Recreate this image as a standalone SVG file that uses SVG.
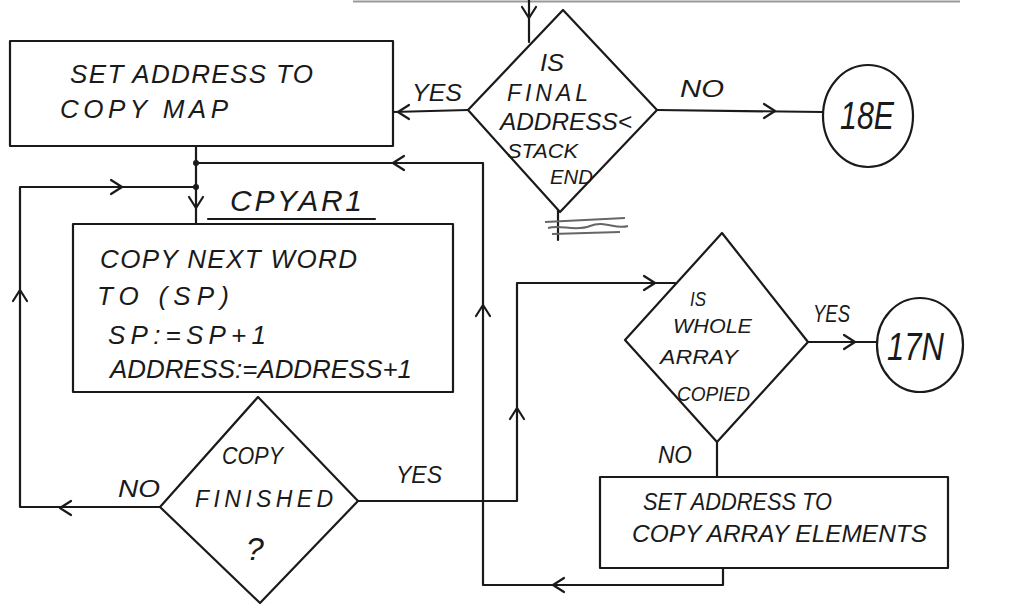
<svg xmlns="http://www.w3.org/2000/svg" xmlns:xlink="http://www.w3.org/1999/xlink" width="1013" height="607" viewBox="0 0 1013 607">
<style>
.s{fill:none;stroke:#1a1a1a;stroke-width:2.2;stroke-linejoin:round;stroke-linecap:round}
.t{font-family:"Liberation Sans",Arial,sans-serif;fill:#1a1a1a;font-style:italic}
.b{font-size:26px}
.d{font-size:23px}
.e{font-size:21px}
.l{font-size:24px}
.c{font-size:38px}
</style>
<defs>
<path id="ah" d="M-11,-7 L0,0 L-11,7" class="s"/>
</defs>
<rect width="1013" height="607" fill="#ffffff"/>
<line x1="353" y1="1.5" x2="960" y2="1.5" stroke="#999" stroke-width="2"/>

<g id="connectors">
<path class="s" d="M529,0 V42"/>
<path class="s" d="M468,110 L393,112"/>
<path class="s" d="M657,110 L823,112"/>
<path class="s" d="M196,146 V224"/>
<path class="s" d="M196,163 H483 V585 H723 V568"/>
<path class="s" d="M160,507 H20 V187 H196"/>
<path class="s" d="M358,501 H517 V283 H675"/>
<path class="s" d="M808,342 H877"/>
<path class="s" d="M717,442 V477"/>
<path class="s" d="M558,210 V240"/>
<path d="M545,222 L625,218 M548,228 C560,224 575,232 590,226 S615,230 628,226 M552,234 L620,232" fill="none" stroke="#666" stroke-width="2"/>
<circle cx="196" cy="163" r="3" fill="#1a1a1a"/>
<circle cx="196" cy="187" r="3" fill="#1a1a1a"/>
<use xlink:href="#ah" transform="translate(529,18) rotate(90)"/>
<use xlink:href="#ah" transform="translate(398,112) rotate(180)"/>
<use xlink:href="#ah" transform="translate(775,111)"/>
<use xlink:href="#ah" transform="translate(196,208) rotate(90)"/>
<use xlink:href="#ah" transform="translate(393,163) rotate(180)"/>
<use xlink:href="#ah" transform="translate(122,187)"/>
<use xlink:href="#ah" transform="translate(20,290) rotate(-90)"/>
<use xlink:href="#ah" transform="translate(60,508) rotate(180)"/>
<use xlink:href="#ah" transform="translate(483,305) rotate(-90)"/>
<use xlink:href="#ah" transform="translate(517,408) rotate(-90)"/>
<use xlink:href="#ah" transform="translate(655,283)"/>
<use xlink:href="#ah" transform="translate(855,342)"/>
<use xlink:href="#ah" transform="translate(553,585) rotate(180)"/>
<text class="t l" x="412" y="101" textLength="50" lengthAdjust="spacingAndGlyphs">YES</text>
<text class="t l" x="680" y="97" textLength="44" lengthAdjust="spacingAndGlyphs">NO</text>
<text class="t l" x="118" y="497" textLength="42" lengthAdjust="spacingAndGlyphs">NO</text>
<text class="t l" x="396" y="483" textLength="46" lengthAdjust="spacingAndGlyphs">YES</text>
<text class="t l" x="813" y="322" textLength="37" lengthAdjust="spacingAndGlyphs">YES</text>
<text class="t l" x="658" y="463" textLength="34" lengthAdjust="spacingAndGlyphs">NO</text>
</g>

<g id="box-set-address-copy-map">
<rect class="s" x="10" y="41" width="383" height="105"/>
<text class="t b" x="70" y="83" textLength="243" lengthAdjust="spacing">SET ADDRESS TO</text>
<text class="t b" x="60" y="118" textLength="168" lengthAdjust="spacing">COPY MAP</text>
</g>

<g id="diamond-final-address">
<path class="s" d="M563,10 L657,110 L560,212 L468,110 Z"/>
<text class="t d" x="540" y="71" textLength="24" lengthAdjust="spacingAndGlyphs">IS</text>
<text class="t d" x="507" y="101" textLength="81" lengthAdjust="spacing">FINAL</text>
<text class="t d" x="500" y="130" textLength="132" lengthAdjust="spacingAndGlyphs">ADDRESS&lt;</text>
<text class="t e" x="507" y="158" textLength="71" lengthAdjust="spacingAndGlyphs">STACK</text>
<text class="t e" x="550" y="184" textLength="43" lengthAdjust="spacingAndGlyphs">END</text>
</g>

<g id="connector-18E">
<ellipse class="s" cx="868" cy="116" rx="45" ry="51"/>
<text class="t c" x="840" y="129" textLength="54" lengthAdjust="spacingAndGlyphs">18E</text>
</g>

<g id="label-cpyar1">
<text class="t" style="font-size:30px" x="230" y="211" textLength="132" lengthAdjust="spacing">CPYAR1</text>
<path class="s" d="M208,219 H375"/>
</g>

<g id="box-copy-next-word">
<rect class="s" x="73" y="224" width="380" height="168"/>
<text class="t b" x="100" y="268" textLength="257" lengthAdjust="spacing">COPY NEXT WORD</text>
<text class="t b" x="97" y="305" textLength="132" lengthAdjust="spacing">TO (SP)</text>
<text class="t b" x="108" y="344" textLength="158" lengthAdjust="spacing">SP:=SP+1</text>
<text class="t b" x="110" y="378" textLength="302" lengthAdjust="spacingAndGlyphs">ADDRESS:=ADDRESS+1</text>
</g>

<g id="diamond-copy-finished">
<path class="s" d="M258,397 L358,501 L260,603 L160,507 Z"/>
<text class="t d" x="222" y="464" textLength="61" lengthAdjust="spacingAndGlyphs">COPY</text>
<text class="t d" x="195" y="507" textLength="138" lengthAdjust="spacing">FINISHED</text>
<text class="t" style="font-size:32px" x="246" y="560">?</text>
</g>

<g id="diamond-whole-array">
<path class="s" d="M722,233 L808,342 L717,442 L625,340 Z"/>
<text class="t e" x="690" y="306" textLength="16" lengthAdjust="spacingAndGlyphs">IS</text>
<text class="t e" x="673" y="333" textLength="79" lengthAdjust="spacingAndGlyphs">WHOLE</text>
<text class="t e" x="660" y="364" textLength="78" lengthAdjust="spacingAndGlyphs">ARRAY</text>
<text class="t e" x="677" y="401" textLength="73" lengthAdjust="spacingAndGlyphs">COPIED</text>
</g>

<g id="connector-17N">
<ellipse class="s" cx="920" cy="345" rx="43" ry="47"/>
<text class="t c" x="887" y="360" textLength="57" lengthAdjust="spacingAndGlyphs">17N</text>
</g>

<g id="box-set-address-array">
<rect class="s" x="600" y="477" width="348" height="91"/>
<text class="t l" x="643" y="510" textLength="189" lengthAdjust="spacingAndGlyphs">SET ADDRESS TO</text>
<text class="t l" x="632" y="542" textLength="295" lengthAdjust="spacingAndGlyphs">COPY ARRAY ELEMENTS</text>
</g>
</svg>
